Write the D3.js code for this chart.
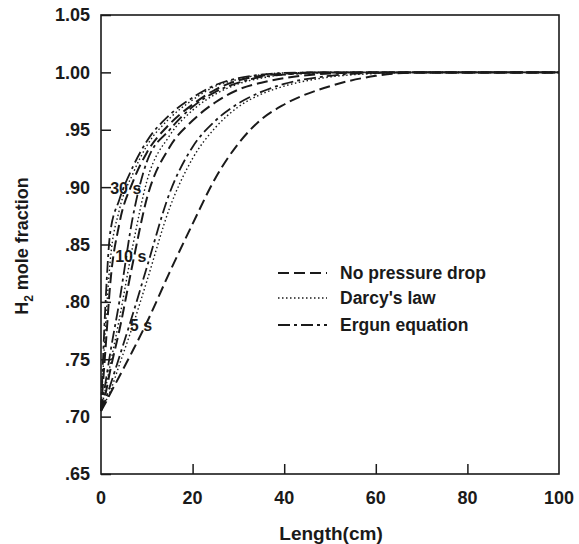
<!DOCTYPE html>
<html>
<head>
<meta charset="utf-8">
<script src="https://cdn.jsdelivr.net/npm/d3@7"></script>
<style>
  html, body { margin: 0; padding: 0; background: #fff; }
  svg { display: block; font-family: "Liberation Sans", Arial, sans-serif; }
</style>
</head>
<body>
<svg id="chart" width="579" height="544"></svg>
<script>
// ---- data ----
const lengths = [0, 1, 2, 4, 7, 10, 15, 20, 25, 30, 35, 40, 50, 60, 70, 100];

// 30 s
const npd30   = [0.705, 0.760, 0.815, 0.868, 0.905, 0.930, 0.955, 0.972, 0.985, 0.993, 0.997, 0.999, 1.000, 1.000, 1.000, 1.000];
const darcy30 = [0.705, 0.780, 0.835, 0.880, 0.912, 0.936, 0.960, 0.976, 0.988, 0.994, 0.998, 0.9995, 1.000, 1.000, 1.000, 1.000];
const ergun30 = [0.705, 0.800, 0.860, 0.889, 0.918, 0.940, 0.963, 0.978, 0.989, 0.995, 0.998, 0.9995, 1.000, 1.000, 1.000, 1.000];
// 10 s
const npd10   = [0.705, 0.720, 0.740, 0.775, 0.835, 0.890, 0.935, 0.958, 0.974, 0.985, 0.991, 0.995, 0.999, 1.000, 1.000, 1.000];
const darcy10 = [0.705, 0.725, 0.745, 0.785, 0.850, 0.905, 0.945, 0.967, 0.981, 0.990, 0.995, 0.998, 0.9995, 1.000, 1.000, 1.000];
const ergun10 = [0.705, 0.730, 0.755, 0.800, 0.875, 0.922, 0.950, 0.970, 0.983, 0.991, 0.996, 0.998, 1.000, 1.000, 1.000, 1.000];
// 5 s
const npd5    = [0.705, 0.712, 0.720, 0.735, 0.758, 0.782, 0.826, 0.868, 0.908, 0.938, 0.959, 0.972, 0.988, 0.997, 1.000, 1.000];
const darcy5  = [0.705, 0.713, 0.722, 0.745, 0.780, 0.818, 0.882, 0.925, 0.952, 0.970, 0.981, 0.988, 0.996, 0.999, 1.000, 1.000];
const ergun5  = [0.705, 0.715, 0.727, 0.752, 0.790, 0.830, 0.895, 0.935, 0.958, 0.973, 0.983, 0.990, 0.997, 0.9995, 1.000, 1.000];

const models = ["No pressure drop", "Darcy's law", "Ergun equation"];
const seriesList = [
  { model: 0, values: npd5 },  { model: 1, values: darcy5 },  { model: 2, values: ergun5 },
  { model: 0, values: npd10 }, { model: 1, values: darcy10 }, { model: 2, values: ergun10 },
  { model: 0, values: npd30 }, { model: 1, values: darcy30 }, { model: 2, values: ergun30 }
];

// time annotations: [label, length, fraction]
const timeLabels = [["30 s", 2.0, 0.899], ["10 s", 3.1, 0.840], ["5 s", 6.3, 0.780]];

const xTicks = [0, 20, 40, 60, 80, 100];
const yTicks = [0.65, 0.70, 0.75, 0.80, 0.85, 0.90, 0.95, 1.00, 1.05];

// ---- layout ----
const svg = d3.select("#chart");
const plotL = 101, plotR = 559, plotT = 15, plotB = 474;
const ink = "#1a1a1a";

const x = d3.scaleLinear().domain([0, 100]).range([plotL, plotR]);
const y = d3.scaleLinear().domain([0.65, 1.05]).range([plotB, plotT]);

const dashes = ["11,5", "1.5,2.5", "12,4,3,4"];
const widths = [2, 1.4, 1.8];

// curves
const line = d3.line()
  .x((d, i) => x(lengths[i]))
  .y(d => y(d))
  .curve(d3.curveMonotoneX);

svg.append("g")
  .selectAll("path")
  .data(seriesList)
  .join("path")
  .attr("d", d => line(d.values))
  .attr("fill", "none")
  .attr("stroke", ink)
  .attr("stroke-width", d => widths[d.model])
  .attr("stroke-dasharray", d => dashes[d.model]);

// frame
svg.append("rect")
  .attr("x", plotL).attr("y", plotT)
  .attr("width", plotR - plotL).attr("height", plotB - plotT)
  .attr("fill", "none").attr("stroke", ink).attr("stroke-width", 1.6);

// y axis (ticks inward)
const fmt = v => d3.format(".2f")(v).replace(/^0/, "");
const yAxis = svg.append("g")
  .attr("transform", `translate(${plotL},0)`)
  .call(d3.axisRight(y).tickValues(yTicks).tickSize(10).tickFormat(""));
yAxis.select(".domain").remove();
yAxis.selectAll("line").attr("stroke", ink).attr("stroke-width", 1.5);

svg.append("g")
  .selectAll("text")
  .data(yTicks)
  .join("text")
  .attr("x", plotL - 11)
  .attr("y", d => y(d))
  .attr("dy", "0.36em")
  .attr("text-anchor", "end")
  .attr("font-size", 18)
  .attr("font-weight", "bold")
  .attr("fill", ink)
  .text(fmt);

// x axis (ticks inward)
const xAxis = svg.append("g")
  .attr("transform", `translate(0,${plotB})`)
  .call(d3.axisTop(x).tickValues(xTicks.slice(1, -1)).tickSize(10).tickFormat(""));
xAxis.select(".domain").remove();
xAxis.selectAll("line").attr("stroke", ink).attr("stroke-width", 1.5);

svg.append("g")
  .selectAll("text")
  .data(xTicks)
  .join("text")
  .attr("x", d => x(d))
  .attr("y", plotB + 24)
  .attr("dy", "0.36em")
  .attr("text-anchor", "middle")
  .attr("font-size", 18)
  .attr("font-weight", "bold")
  .attr("fill", ink)
  .text(d => d);

// axis titles
svg.append("text")
  .attr("x", 331).attr("y", 533)
  .attr("dy", "0.36em")
  .attr("text-anchor", "middle")
  .attr("font-size", 19).attr("font-weight", "bold").attr("fill", ink)
  .text("Length(cm)");

const yt = svg.append("text")
  .attr("transform", "translate(28,246) rotate(-90)")
  .attr("text-anchor", "middle")
  .attr("font-size", 18).attr("font-weight", "bold").attr("fill", ink);
yt.append("tspan").text("H");
yt.append("tspan").attr("font-size", 12).attr("dy", 5).text("2");
yt.append("tspan").attr("dy", -5).text(" mole fraction");

// time annotations
svg.append("g")
  .selectAll("text")
  .data(timeLabels)
  .join("text")
  .attr("x", d => x(d[1]))
  .attr("y", d => y(d[2]))
  .attr("dy", "0.36em")
  .attr("font-size", 16).attr("font-weight", "bold").attr("fill", ink)
  .text(d => d[0]);

// legend
const legend = svg.append("g");
const rowY = [273, 298, 325];
models.forEach((m, i) => {
  legend.append("line")
    .attr("x1", 278).attr("x2", 327)
    .attr("y1", rowY[i]).attr("y2", rowY[i])
    .attr("stroke", ink)
    .attr("stroke-width", widths[i])
    .attr("stroke-dasharray", dashes[i]);
  legend.append("text")
    .attr("x", 340).attr("y", rowY[i])
    .attr("dy", "0.36em")
    .attr("font-size", 17.5).attr("font-weight", "bold").attr("fill", ink)
    .text(m);
});
</script>
</body>
</html>
